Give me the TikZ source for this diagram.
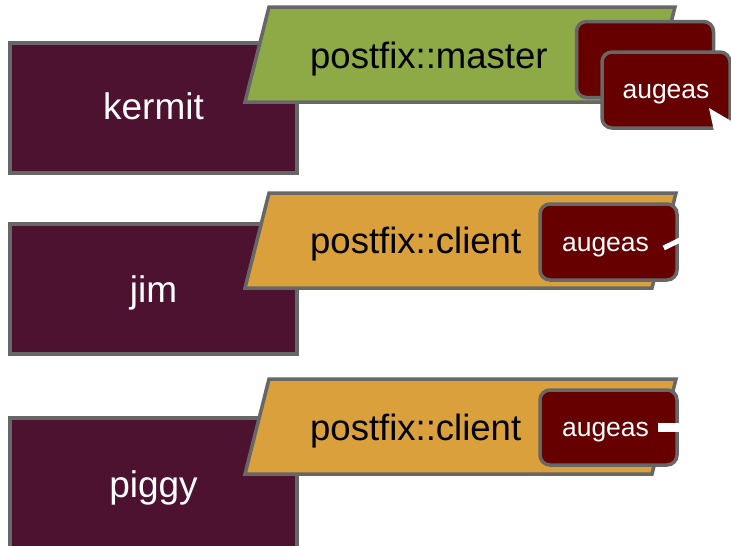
\documentclass[tikz,border=0pt]{standalone}
\usepackage{fontspec}
\setmainfont{Liberation Sans}
\definecolor{hostfill}{HTML}{4C1230}
\definecolor{masterfill}{HTML}{8DAA46}
\definecolor{clientfill}{HTML}{D9A03B}
\definecolor{resfill}{HTML}{660000}
\definecolor{edgegray}{HTML}{676767}
\tikzset{
  host/.style={draw=edgegray, line width=3.5pt, fill=hostfill,
    minimum width=287pt, minimum height=130pt, inner sep=0pt},
  hostlabel/.style={text=white, font=\fontsize{37}{44}\selectfont,
    inner sep=0pt, anchor=base},
  classshape/.style={draw=edgegray, line width=3.5pt, line join=miter},
  classlabel/.style={text=black, font=\fontsize{36.5}{44}\selectfont,
    inner sep=0pt, anchor=base west},
  resbox/.style={draw=edgegray, line width=3.5pt, fill=resfill,
    rounded corners=10pt, minimum width=137pt, minimum height=76pt, inner sep=0pt},
  reslabel/.style={text=white, font=\fontsize{26.5}{30}\selectfont,
    inner sep=0pt, anchor=base},
  notch/.style={draw=white, line width=5pt}
}
\begin{document}
\begin{tikzpicture}[x=1pt, y=-1pt]
\useasboundingbox (0,0) rectangle (731,546);

% hosts
\node[host] (kermit) at (153.5,108) {};
\node[hostlabel] (kermitname) at (153.5,119) {kermit};
\node[host] (jim) at (153.5,289) {};
\node[hostlabel] (jimname) at (153.5,302) {jim};
\node[host] (piggy) at (153.5,483) {};
\node[hostlabel] (piggyname) at (153.5,497) {piggy};

% classes applied to each host
\filldraw[classshape, fill=masterfill] (269,7) -- (675,7) -- (651,102) -- (245,102) -- cycle;
\node[classlabel] (master) at (310,68) {postfix::master};
\filldraw[classshape, fill=clientfill] (269,193) -- (676,193) -- (652,288) -- (245,288) -- cycle;
\node[classlabel] (clientjim) at (310,253) {postfix::client};
\filldraw[classshape, fill=clientfill] (269,379) -- (676,379) -- (652,474) -- (245,474) -- cycle;
\node[classlabel] (clientpiggy) at (310,440) {postfix::client};

% augeas resources
\node[resbox] (augback) at (645,59.5) {};
\node[resbox, minimum width=128pt] (augfront) at (666,90) {};
\node[reslabel] (augfrontname) at (666,98.5) {augeas};
\fill[white] (709,108) -- (731,121) -- (731,131) -- (714,131) -- cycle;

\node[resbox] (augjim) at (608.5,242) {};
\node[reslabel] (augjimname) at (605.5,251) {augeas};
\coordinate (jimout) at (680,240);
\draw[notch] ([xshift=-15pt,yshift=-6pt]augjim.east) -- (jimout);

\node[resbox, minimum height=75pt] (augpiggy) at (608.5,427.5) {};
\node[reslabel] (augpiggyname) at (605.5,436) {augeas};
\coordinate (piggyout) at (680,427.5);
\draw[notch, line width=9pt] ([xshift=-21pt]augpiggy.east) -- (piggyout);
\end{tikzpicture}
\end{document}
